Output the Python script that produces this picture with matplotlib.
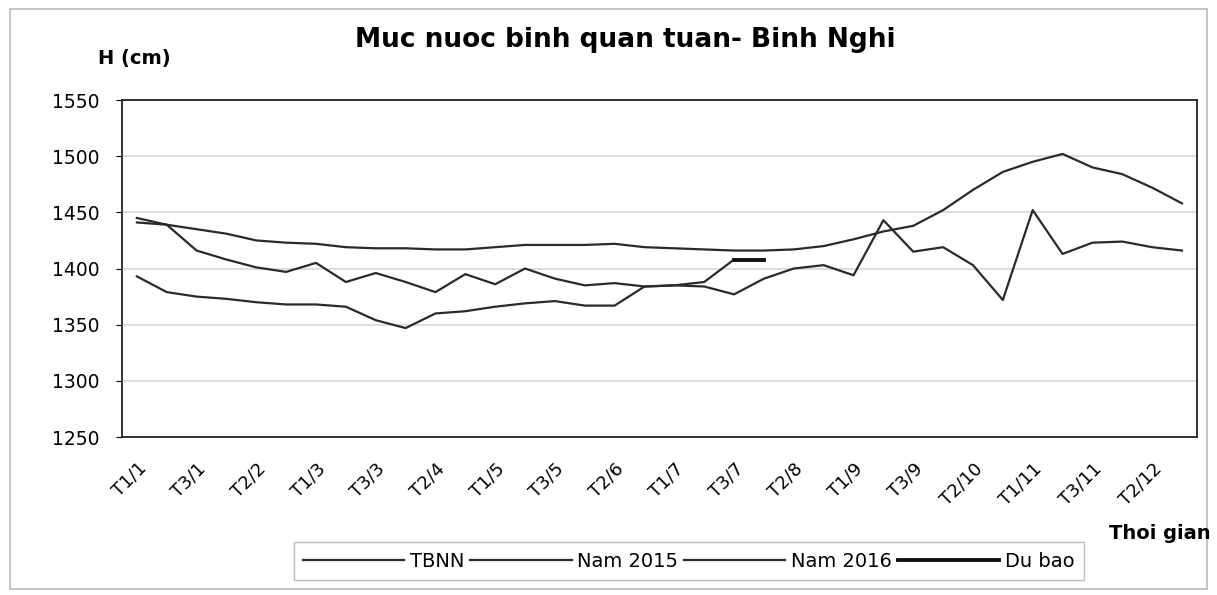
import matplotlib
matplotlib.use("Agg")
import matplotlib.pyplot as plt
from matplotlib.patches import Rectangle

# 36 ten-day periods (T1..T3 of each month)
periods = ["T%d/%d" % (t, m) for m in range(1, 13) for t in (1, 2, 3)]

tbnn = [1441, 1439, 1435, 1431, 1425, 1423, 1422, 1419, 1418, 1418, 1417, 1417,
        1419, 1421, 1421, 1421, 1422, 1419, 1418, 1417, 1416, 1416, 1417, 1420,
        1426, 1433, 1438, 1452, 1470, 1486, 1495, 1502, 1490, 1484, 1472, 1458]
nam_2015 = [1445, 1439, 1416, 1408, 1401, 1397, 1405, 1388, 1396, 1388, 1379, 1395,
            1386, 1400, 1391, 1385, 1387, 1384, 1385, 1384, 1377, 1391, 1400, 1403,
            1394, 1443, 1415, 1419, 1403, 1372, 1452, 1413, 1423, 1424, 1419, 1416]
nam_2016 = [1393, 1379, 1375, 1373, 1370, 1368, 1368, 1366, 1354, 1347, 1360, 1362,
            1366, 1369, 1371, 1367, 1367, 1384, 1385, 1388, 1408]
du_bao_idx = [20, 21]
du_bao = [1408, 1408]

y_ticks = [1250, 1300, 1350, 1400, 1450, 1500, 1550]

plt.rcParams["font.family"] = ["DejaVu Sans"]
fig = plt.figure(figsize=(12.17, 5.95), dpi=100)

ax = fig.add_axes([0.1002, 0.2655, 0.8833, 0.5664])
x = list(range(len(periods)))
ax.plot(x, tbnn, color="#2a2a2a", lw=1.6, label="TBNN")
ax.plot(x, nam_2015, color="#2a2a2a", lw=1.6, label="Nam 2015")
ax.plot(x[:len(nam_2016)], nam_2016, color="#2a2a2a", lw=1.6, label="Nam 2016")
ax.plot(du_bao_idx, du_bao, color="#111111", lw=2.8, label="Du bao")

ax.set_xlim(-0.5, len(periods) - 0.5)
ax.set_ylim(1250, 1550)
ax.set_yticks(y_ticks)
ax.set_yticklabels([str(v) for v in y_ticks], fontsize=13.5)
ax.set_xticks(x[::2])
ax.set_xticklabels(periods[::2], rotation=45, ha="right", rotation_mode="anchor",
                   fontsize=13)
ax.tick_params(axis="x", length=0, pad=16)
ax.tick_params(axis="y", length=4, pad=12)
ax.grid(axis="y", color="#d8d8d8", lw=1.2)
ax.set_axisbelow(True)
for s in ax.spines.values():
    s.set_color("#222222")
    s.set_linewidth(1.3)

fig.text(0.514, 0.932, "Muc nuoc binh quan tuan- Binh Nghi", fontsize=19,
         fontweight="bold", ha="center", va="center")
fig.text(0.110, 0.9025, "H (cm)", fontsize=14, fontweight="bold",
         ha="center", va="center")
fig.text(0.995, 0.104, "Thoi gian", fontsize=14, fontweight="bold",
         ha="right", va="center")

fig.legend(loc="center", bbox_to_anchor=(0.566, 0.057), ncol=4, fontsize=14,
           frameon=True, fancybox=False, edgecolor="#aaaaaa",
           handlelength=5.2, handletextpad=0.3, columnspacing=0.3,
           borderpad=0.5)

fig.patches.append(Rectangle((0.008, 0.01), 0.984, 0.975, transform=fig.transFigure,
                             fill=False, edgecolor="#bbbbbb", lw=1.2))

fig.savefig("out.png", dpi=100, facecolor="white")
